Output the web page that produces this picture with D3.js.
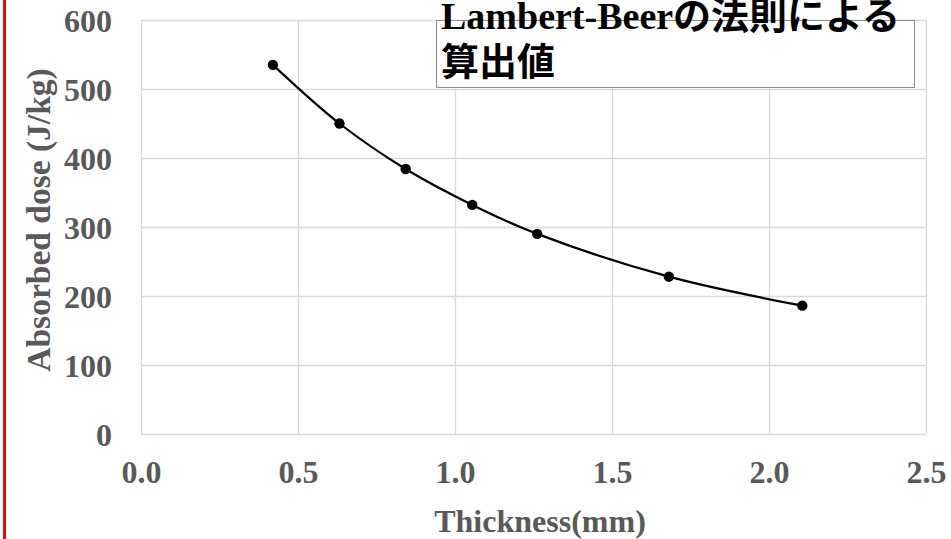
<!DOCTYPE html>
<html><head><meta charset="utf-8">
<script src="https://cdn.jsdelivr.net/npm/d3@7"></script>
<style>body{margin:0;background:#fff;}svg{display:block;}</style>
</head><body>
<svg id="chart" width="951" height="539"></svg>
<script>
const thickness = [0.42, 0.632, 0.843, 1.055, 1.262, 1.681, 2.106];
const dose = [535, 450, 384, 332, 290, 228, 186];
const xTicks = [0, 0.5, 1.0, 1.5, 2.0, 2.5];
const yTicks = [0, 100, 200, 300, 400, 500, 600];
const titleLines = ["Lambert-Beerの法則による", "算出値"];
const xTitle = "Thickness(mm)";
const yTitle = "Absorbed dose (J/kg)";

const svg = d3.select("#chart");
const L = 141, R = 926, T = 20, B = 434;
const x = d3.scaleLinear().domain([0, 2.5]).range([L, R]);
const y = d3.scaleLinear().domain([0, 600]).range([B, T]);
const grey = "#595959";
const font = "'Liberation Serif','Times New Roman',serif";

// red line at left
svg.append("rect").attr("x", 3).attr("y", 0).attr("width", 3).attr("height", 539).attr("fill", "#ff0000");

// gridlines
const gx = svg.append("g")
  .attr("transform", `translate(0,${B})`)
  .call(d3.axisBottom(x).tickValues(xTicks).tickSize(-(B - T)).tickFormat(d3.format(".1f")).tickPadding(28));
const gy = svg.append("g")
  .attr("transform", `translate(${L},0)`)
  .call(d3.axisLeft(y).tickValues(yTicks).tickSize(-(R - L)).tickFormat(d3.format("d")).tickPadding(29));
[gx, gy].forEach(g => {
  g.select(".domain").remove();
  g.selectAll(".tick line").attr("stroke", "#d9d9d9").attr("stroke-width", 1.3);
  g.selectAll(".tick text").attr("fill", grey).attr("font-family", font)
    .attr("font-weight", "bold").attr("font-size", 32);
});
gx.selectAll(".tick text").attr("dy", 0).attr("y", 49);
gy.selectAll(".tick text").attr("dy", "0.35em");

// curve
const pts = thickness.map((t, i) => [t, dose[i]]);
svg.append("path").datum(pts)
  .attr("fill", "none").attr("stroke", "#000").attr("stroke-width", 2.2)
  .attr("d", d3.line().x(d => x(d[0])).y(d => y(d[1])).curve(d3.curveCatmullRom.alpha(0.5)));
svg.append("g").selectAll("circle").data(pts).join("circle")
  .attr("cx", d => x(d[0])).attr("cy", d => y(d[1])).attr("r", 5.2).attr("fill", "#000");

// axis titles
svg.append("text").attr("x", 540).attr("y", 532).attr("text-anchor", "middle")
  .attr("font-family", font).attr("font-weight", "bold").attr("font-size", 32).attr("fill", grey).text(xTitle);
svg.append("text").attr("transform", "translate(50,220) rotate(-90)").attr("text-anchor", "middle")
  .attr("font-family", font).attr("font-weight", "bold").attr("font-size", 33.5).attr("fill", grey).text(yTitle);

// title box
svg.append("rect").attr("x", 436.5).attr("y", 20.5).attr("width", 478).attr("height", 67)
  .attr("fill", "#fff").attr("stroke", "#8c8c8c").attr("stroke-width", 1);
const tt = svg.append("text").attr("font-family", "'Liberation Serif','Noto Sans CJK JP',serif")
  .attr("font-weight", "bold").attr("font-size", 38).attr("fill", "#000");
tt.append("tspan").attr("x", 441).attr("y", 29).text(titleLines[0]);
tt.append("tspan").attr("x", 441).attr("y", 75).text(titleLines[1]);
</script>
</body></html>
